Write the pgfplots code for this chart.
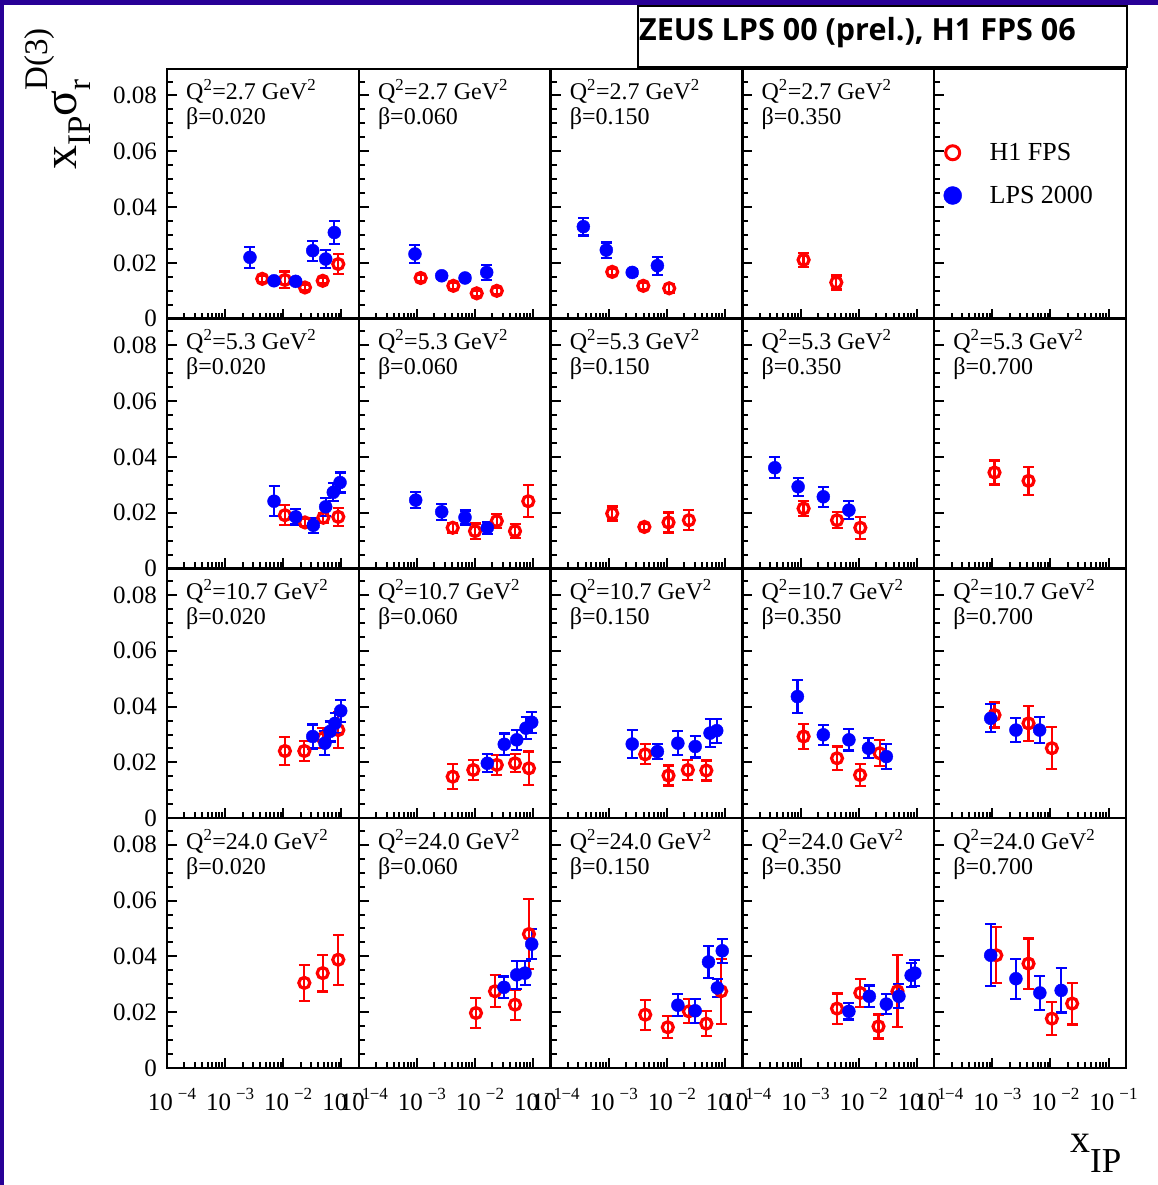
\documentclass[border=0pt]{standalone}
\usepackage{fontspec}
\setmainfont{Liberation Serif}
\newfontfamily\titlefont{Open Sans}
\usepackage{pgfplots}
\pgfplotsset{compat=1.18}

\definecolor{frameblue}{RGB}{40,0,150}

\newcommand\tickfont{\fontsize{25}{25}\selectfont}
\newcommand\panelfont{\fontsize{24}{24}\selectfont}
\newcommand\legfont{\fontsize{26}{26}\selectfont}
% power-of-ten tick label
\newcommand\pw[1]{10\hspace{5pt}\raisebox{11pt}{\fontsize{17}{17}\selectfont #1}}
% bin label in the upper left corner of a panel
\newcommand\binlabel[2]{%
  \node[anchor=base west, inner sep=0pt, xshift=19pt, yshift=-31pt, font=\panelfont]
    at (rel axis cs:0,1) {Q\textsuperscript{2}=#1 GeV\textsuperscript{2}};
  \node[anchor=base west, inner sep=0pt, xshift=19pt, yshift=-56pt, font=\panelfont]
    at (rel axis cs:0,1) {β=#2};}

\pgfplotsset{
  panel/.style={
    scale only axis, width=191.8pt, height=249.75pt, anchor=north west,
    xmin=1e-4, xmax=0.2, ymin=0, ymax=0.0895,
    axis line style={line width=2.5pt},
    tick align=inside, xtick pos=bottom, ytick pos=left,
    xtick={1e-4,1e-3,1e-2,1e-1},
    minor xtick={2e-4,3e-4,4e-4,5e-4,6e-4,7e-4,8e-4,9e-4,
                 2e-3,3e-3,4e-3,5e-3,6e-3,7e-3,8e-3,9e-3,
                 2e-2,3e-2,4e-2,5e-2,6e-2,7e-2,8e-2,9e-2,2e-1},
    ytick={0,0.02,0.04,0.06,0.08},
    minor ytick={0.005,0.01,0.015,0.025,0.03,0.035,0.045,0.05,0.055,0.065,0.07,0.075,0.085},
    major tick length=10pt, minor tick length=6pt,
    tick style={black, line width=2pt},
    xticklabels={}, yticklabels={},
    scaled y ticks=false,
    tick label style={font=\tickfont},
    yticklabel style={anchor=east, inner sep=0pt, xshift=-10pt},
    xticklabel style={anchor=base, inner sep=0pt, yshift=-42pt, xshift=5pt},
  },
  ylab/.style={yticklabels={0,0.02,0.04,0.06,0.08}},
  xlab/.style={xticklabels={\pw{−4},\pw{−3},\pw{−2},\pw{−1}}},
  h1/.style={only marks, red, mark=o, mark size=5.5pt,
    mark options={line width=3.2pt, fill=white}},
  lps/.style={only marks, blue, mark=*, mark size=6.5pt},
  every axis plot/.append style={
    error bars/y dir=both, error bars/y explicit,
    error bars/error bar style={line width=2.2pt},
    error bars/error mark options={rotate=90, mark size=5.5pt, line width=2.2pt}},
}

\begin{document}
\begin{tikzpicture}
\path[use as bounding box, fill=white] (0pt,0pt) rectangle (1158pt,1185pt);
\fill[frameblue] (0pt,1180pt) rectangle (1158pt,1185pt);
\fill[frameblue] (0pt,0pt) rectangle (4pt,1185pt);

% ---------------- Q^2 = 2.7 GeV^2 ----------------
\begin{semilogxaxis}[panel, ylab, at={(167pt,1116pt)}]
\addplot[h1] coordinates {(4.36e-3,0.0143) +- (0,0.0010) (0.0107,0.0139) +- (0,0.0030)
  (0.0237,0.0112) +- (0,0.0010) (0.0479,0.0136) +- (0,0.0010) (0.0887,0.0196) +- (0,0.0036)};
\addplot[lps] coordinates {(2.68e-3,0.0220) +- (0,0.0038) (6.95e-3,0.0136) +- (0,0.0010)
  (0.0164,0.0134) +- (0,0.0010) (0.0322,0.0244) +- (0,0.0036) (0.0538,0.0214) +- (0,0.0033)
  (0.0759,0.0309) +- (0,0.0042)};
\binlabel{2.7}{0.020}
\end{semilogxaxis}

\begin{semilogxaxis}[panel, at={(358.8pt,1116pt)}]
\addplot[h1] coordinates {(1.16e-3,0.0146) +- (0,0.0010) (4.24e-3,0.0118) +- (0,0.0010)
  (0.0107,0.0091) +- (0,0.0010) (0.0237,0.0100) +- (0,0.0010)};
\addplot[lps] coordinates {(9.27e-4,0.0232) +- (0,0.0032) (2.67e-3,0.0154) +- (0,0.0010)
  (6.73e-3,0.0146) +- (0,0.0010) (0.0159,0.0166) +- (0,0.0027)};
\binlabel{2.7}{0.060}
\end{semilogxaxis}

\begin{semilogxaxis}[panel, at={(550.6pt,1116pt)}]
\addplot[h1] coordinates {(1.15e-3,0.0168) +- (0,0.0011) (3.94e-3,0.0118) +- (0,0.0010)
  (0.0110,0.0109) +- (0,0.0015)};
\addplot[lps] coordinates {(3.66e-4,0.0330) +- (0,0.0032) (9.10e-4,0.0246) +- (0,0.0027)
  (2.54e-3,0.0166) +- (0,0.0011) (6.89e-3,0.0190) +- (0,0.0032)};
\binlabel{2.7}{0.150}
\end{semilogxaxis}

\begin{semilogxaxis}[panel, at={(742.4pt,1116pt)}]
\addplot[h1] coordinates {(1.13e-3,0.0211) +- (0,0.0025) (4.13e-3,0.0130) +- (0,0.0025)};
\binlabel{2.7}{0.350}
\end{semilogxaxis}

\begin{semilogxaxis}[panel, at={(934.2pt,1116pt)},
  legend style={at={(rel axis cs:0,1)}, anchor=north west, xshift=9.3pt, yshift=-74.2pt,
    draw=none, fill=none, inner sep=0pt, font=\legfont, row sep=24pt, column sep=28pt,
    nodes={inner sep=0pt}},
  legend cell align=left,
  legend image code/.code={\draw[#1] plot coordinates {(8.5pt,0pt)};}]
\addlegendimage{only marks, red, mark=o, mark size=7pt, mark options={line width=3pt}}
\addlegendentry{H1 FPS}
\addlegendimage{only marks, blue, mark=*, mark size=9pt}
\addlegendentry{LPS 2000}
\end{semilogxaxis}

% ---------------- Q^2 = 5.3 GeV^2 ----------------
\begin{semilogxaxis}[panel, ylab, at={(167pt,866.25pt)}]
\addplot[h1] coordinates {(0.0107,0.0191) +- (0,0.0036) (0.0237,0.0165) +- (0,0.0014)
  (0.0490,0.0182) +- (0,0.0018) (0.0887,0.0185) +- (0,0.0032)};
\addplot[lps] coordinates {(6.95e-3,0.0241) +- (0,0.0054) (0.0164,0.0185) +- (0,0.0027)
  (0.0330,0.0155) +- (0,0.0027) (0.0538,0.0221) +- (0,0.0032) (0.0728,0.0273) +- (0,0.0032)
  (0.0951,0.0308) +- (0,0.0036)};
\binlabel{5.3}{0.020}
\end{semilogxaxis}

\begin{semilogxaxis}[panel, at={(358.8pt,866.25pt)}]
\addplot[h1] coordinates {(4.13e-3,0.0146) +- (0,0.0018) (0.0100,0.0134) +- (0,0.0027)
  (0.0237,0.0170) +- (0,0.0025) (0.0488,0.0134) +- (0,0.0025) (0.0826,0.0241) +- (0,0.0057)};
\addplot[lps] coordinates {(9.53e-4,0.0245) +- (0,0.0028) (2.67e-3,0.0203) +- (0,0.0029)
  (6.73e-3,0.0183) +- (0,0.0025) (0.0163,0.0146) +- (0,0.0022)};
\binlabel{5.3}{0.060}
\end{semilogxaxis}

\begin{semilogxaxis}[panel, at={(550.6pt,866.25pt)}]
\addplot[h1] coordinates {(1.15e-3,0.0197) +- (0,0.0025) (4.11e-3,0.0149) +- (0,0.0010)
  (0.0107,0.0165) +- (0,0.0036) (0.0240,0.0173) +- (0,0.0036)};
\binlabel{5.3}{0.150}
\end{semilogxaxis}

\begin{semilogxaxis}[panel, at={(742.4pt,866.25pt)}]
\addplot[h1] coordinates {(1.13e-3,0.0215) +- (0,0.0027) (4.25e-3,0.0173) +- (0,0.0029)
  (0.0107,0.0146) +- (0,0.0039)};
\addplot[lps] coordinates {(3.61e-4,0.0361) +- (0,0.0038) (9.10e-4,0.0293) +- (0,0.0032)
  (2.47e-3,0.0257) +- (0,0.0036) (6.81e-3,0.0209) +- (0,0.0032)};
\binlabel{5.3}{0.350}
\end{semilogxaxis}

\begin{semilogxaxis}[panel, at={(934.2pt,866.25pt)}]
\addplot[h1] coordinates {(1.09e-3,0.0344) +- (0,0.0043) (4.20e-3,0.0314) +- (0,0.0050)};
\binlabel{5.3}{0.700}
\end{semilogxaxis}

% ---------------- Q^2 = 10.7 GeV^2 ----------------
\begin{semilogxaxis}[panel, ylab, at={(167pt,616.5pt)}]
\addplot[h1] coordinates {(0.0107,0.0241) +- (0,0.0050) (0.0231,0.0241) +- (0,0.0036)
  (0.0484,0.0287) +- (0,0.0036) (0.0887,0.0316) +- (0,0.0065)};
\addplot[lps] coordinates {(0.0322,0.0293) +- (0,0.0043) (0.0523,0.0269) +- (0,0.0043)
  (0.0640,0.0311) +- (0,0.0036) (0.0780,0.0340) +- (0,0.0036) (0.0977,0.0385) +- (0,0.0039)};
\binlabel{10.7}{0.020}
\end{semilogxaxis}

\begin{semilogxaxis}[panel, at={(358.8pt,616.5pt)}]
\addplot[h1] coordinates {(4.13e-3,0.0149) +- (0,0.0045) (9.35e-3,0.0173) +- (0,0.0036)
  (0.0237,0.0191) +- (0,0.0036) (0.0488,0.0197) +- (0,0.0032) (0.0849,0.0179) +- (0,0.0060)};
\addplot[lps] coordinates {(0.0163,0.0197) +- (0,0.0032) (0.0319,0.0265) +- (0,0.0039)
  (0.0522,0.0281) +- (0,0.0036) (0.0755,0.0323) +- (0,0.0039) (0.0946,0.0344) +- (0,0.0038)};
\binlabel{10.7}{0.060}
\end{semilogxaxis}

\begin{semilogxaxis}[panel, at={(550.6pt,616.5pt)}]
\addplot[h1] coordinates {(4.25e-3,0.0229) +- (0,0.0036) (0.0107,0.0153) +- (0,0.0036)
  (0.0230,0.0173) +- (0,0.0036) (0.0479,0.0171) +- (0,0.0036)};
\addplot[lps] coordinates {(2.54e-3,0.0266) +- (0,0.0050) (6.89e-3,0.0239) +- (0,0.0027)
  (0.0155,0.0269) +- (0,0.0043) (0.0308,0.0257) +- (0,0.0039) (0.0555,0.0305) +- (0,0.0050)
  (0.0723,0.0314) +- (0,0.0043)};
\binlabel{10.7}{0.150}
\end{semilogxaxis}

\begin{semilogxaxis}[panel, at={(742.4pt,616.5pt)}]
\addplot[h1] coordinates {(1.13e-3,0.0293) +- (0,0.0045) (4.25e-3,0.0215) +- (0,0.0042)
  (0.0106,0.0155) +- (0,0.0039) (0.0230,0.0233) +- (0,0.0047)};
\addplot[lps] coordinates {(8.85e-4,0.0436) +- (0,0.0060) (2.47e-3,0.0299) +- (0,0.0036)
  (6.81e-3,0.0281) +- (0,0.0038) (0.0148,0.0251) +- (0,0.0036) (0.0300,0.0221) +- (0,0.0045)};
\binlabel{10.7}{0.350}
\end{semilogxaxis}

\begin{semilogxaxis}[panel, at={(934.2pt,616.5pt)}]
\addplot[h1] coordinates {(1.09e-3,0.0370) +- (0,0.0045) (4.20e-3,0.0340) +- (0,0.0063)
  (0.0106,0.0251) +- (0,0.0075)};
\addplot[lps] coordinates {(9.38e-4,0.0358) +- (0,0.0050) (2.55e-3,0.0316) +- (0,0.0043)
  (6.52e-3,0.0316) +- (0,0.0047)};
\binlabel{10.7}{0.700}
\end{semilogxaxis}

% ---------------- Q^2 = 24.0 GeV^2 ----------------
\begin{semilogxaxis}[panel, ylab, xlab, at={(167pt,366.75pt)}]
\addplot[h1] coordinates {(0.0231,0.0305) +- (0,0.0064) (0.0479,0.0340) +- (0,0.0066)
  (0.0887,0.0388) +- (0,0.0090)};
\binlabel{24.0}{0.020}
\end{semilogxaxis}

\begin{semilogxaxis}[panel, xlab, at={(358.8pt,366.75pt)}]
\addplot[h1] coordinates {(0.0104,0.0197) +- (0,0.0054) (0.0221,0.0275) +- (0,0.0057)
  (0.0488,0.0227) +- (0,0.0054) (0.0849,0.0480) +- (0,0.0125)};
\addplot[lps] coordinates {(0.0315,0.0289) +- (0,0.0039) (0.0522,0.0334) +- (0,0.0050)
  (0.0726,0.0340) +- (0,0.0043) (0.0946,0.0444) +- (0,0.0054)};
\binlabel{24.0}{0.060}
\end{semilogxaxis}

\begin{semilogxaxis}[panel, xlab, at={(550.6pt,366.75pt)}]
\addplot[h1] coordinates {(4.25e-3,0.0191) +- (0,0.0054) (0.0104,0.0146) +- (0,0.0039)
  (0.0240,0.0203) +- (0,0.0043) (0.0479,0.0159) +- (0,0.0045) (0.0861,0.0275) +- (0,0.0116)};
\addplot[lps] coordinates {(0.0155,0.0225) +- (0,0.0039) (0.0308,0.0205) +- (0,0.0043)
  (0.0522,0.0380) +- (0,0.0057) (0.0743,0.0287) +- (0,0.0032) (0.0900,0.0420) +- (0,0.0043)};
\binlabel{24.0}{0.150}
\end{semilogxaxis}

\begin{semilogxaxis}[panel, xlab, at={(742.4pt,366.75pt)}]
\addplot[h1] coordinates {(4.25e-3,0.0213) +- (0,0.0054) (0.0107,0.0269) +- (0,0.0050)
  (0.0220,0.0149) +- (0,0.0043) (0.0466,0.0275) +- (0,0.0129)};
\addplot[lps] coordinates {(6.81e-3,0.0203) +- (0,0.0029) (0.0153,0.0257) +- (0,0.0039)
  (0.0300,0.0229) +- (0,0.0036) (0.0494,0.0257) +- (0,0.0043) (0.0802,0.0332) +- (0,0.0043)
  (0.0927,0.0340) +- (0,0.0047)};
\binlabel{24.0}{0.350}
\end{semilogxaxis}

\begin{semilogxaxis}[panel, xlab, at={(934.2pt,366.75pt)}]
\addplot[h1] coordinates {(1.17e-3,0.0404) +- (0,0.0100) (4.20e-3,0.0374) +- (0,0.0090)
  (0.0106,0.0177) +- (0,0.0060) (0.0237,0.0231) +- (0,0.0075)};
\addplot[lps] coordinates {(9.38e-4,0.0404) +- (0,0.0111) (2.55e-3,0.0320) +- (0,0.0072)
  (6.58e-3,0.0269) +- (0,0.0061) (0.0153,0.0278) +- (0,0.0079)};
\binlabel{24.0}{0.700}
\end{semilogxaxis}

% title box
\draw[line width=2pt] (638pt,1118pt) rectangle (1127pt,1179pt);
\node[anchor=base west, inner sep=0pt] at (639pt,1144pt)
  {\titlefont\bfseries\fontsize{30.5}{30.5}\selectfont ZEUS LPS 00 (prel.), H1 FPS 06};

% axis titles
\node[rotate=90, anchor=base west, inner sep=0pt] at (76pt,1015pt)
  {\fontsize{48}{48}\selectfont x\raisebox{-14pt}{\fontsize{33}{33}\selectfont IP}σ\rlap{\raisebox{-14pt}{\fontsize{33}{33}\selectfont r}}\raisebox{29pt}{\fontsize{33}{33}\selectfont D(3)}};
\node[anchor=base west, inner sep=0pt] at (1070pt,32pt)
  {\fontsize{40}{40}\selectfont x\raisebox{-20pt}{\fontsize{35}{35}\selectfont IP}};
\end{tikzpicture}
\end{document}
